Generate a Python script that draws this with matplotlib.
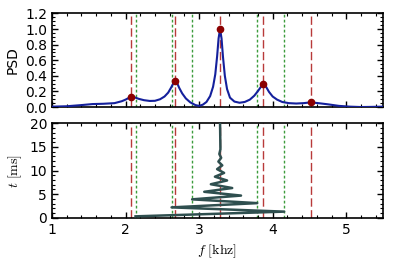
import matplotlib
matplotlib.use("Agg")
import matplotlib.pyplot as plt
from matplotlib.ticker import AutoMinorLocator, MultipleLocator

plt.rcParams['mathtext.fontset'] = 'cm'
plt.rcParams['font.family'] = ['DejaVu Sans']

# PSD curve
psd_f = [1.00, 1.20, 1.40, 1.55, 1.70, 1.85, 1.95, 2.00, 2.04, 2.08, 2.12, 2.18, 2.25, 2.33,
         2.40, 2.47, 2.53, 2.58, 2.62, 2.65, 2.675, 2.70, 2.73, 2.77, 2.82, 2.88, 2.95, 3.00,
         3.05, 3.10, 3.15, 3.19, 3.22, 3.245, 3.265, 3.285, 3.305, 3.325, 3.35, 3.38, 3.42,
         3.48, 3.55, 3.62, 3.69, 3.75, 3.80, 3.845, 3.875, 3.91, 3.95, 4.00, 4.06, 4.13, 4.22,
         4.32, 4.42, 4.52, 4.62, 4.75, 4.90, 5.05, 5.20, 5.35, 5.50]
psd_v = [0.005, 0.010, 0.025, 0.038, 0.042, 0.050, 0.075, 0.095, 0.115, 0.130, 0.125, 0.105,
         0.088, 0.078, 0.080, 0.100, 0.135, 0.185, 0.250, 0.305, 0.330, 0.310, 0.245, 0.175,
         0.110, 0.060, 0.025, 0.015, 0.030, 0.065, 0.140, 0.260, 0.420, 0.650, 0.880, 1.000,
         0.880, 0.640, 0.400, 0.230, 0.120, 0.070, 0.055, 0.065, 0.095, 0.145, 0.205, 0.265,
         0.290, 0.260, 0.195, 0.135, 0.095, 0.065, 0.050, 0.045, 0.050, 0.060, 0.050, 0.035,
         0.015, 0.005, 0.000, 0.002, 0.005]

# Peak markers
peak_f = [2.08, 2.675, 3.285, 3.875, 4.52]
peak_v = [0.130, 0.330, 1.000, 0.290, 0.060]

# Reference lines
red_lines = [2.08, 2.675, 3.285, 3.875, 4.52]
green_lines = [2.136, 2.626, 2.905, 3.79, 4.156]

# Frequency vs time (turning points)
zig_t = [0.3, 1.3, 2.2, 3.1, 3.9, 4.7, 5.5, 6.3, 7.1, 7.9, 8.7, 9.5, 10.3, 11.1, 11.9,
         12.7, 13.5, 14.5, 20.0]
zig_f = [2.136, 4.156, 2.626, 3.79, 2.905, 3.57, 3.07, 3.45, 3.16, 3.38, 3.215, 3.34,
         3.245, 3.315, 3.262, 3.30, 3.275, 3.29, 3.285]

fig = plt.figure(figsize=(3.95, 2.63), dpi=100)
ax1 = fig.add_axes([0.1316, 0.593, 0.838, 0.356])
ax2 = fig.add_axes([0.1316, 0.172, 0.838, 0.359])

red_c = '#b83a3a'
green_c = '#3c9c3c'

for ax in (ax1, ax2):
    for x in red_lines:
        ax.axvline(x, color=red_c, lw=1.0, dashes=(6, 2.5), zorder=1)
    for x in green_lines:
        ax.axvline(x, color=green_c, lw=1.0, dashes=(2, 1.6), zorder=1)

ax1.plot(psd_f, psd_v, color='#14209c', lw=1.5, zorder=3)
ax1.plot(peak_f, peak_v, 'o', color='#8b0000', ms=4.5, mec='#8b0000', zorder=4)
ax1.set_xlim(1, 5.5)
ax1.set_ylim(0, 1.2)
ax1.yaxis.set_major_locator(MultipleLocator(0.2))
ax1.set_ylabel('PSD', fontsize=10)
ax1.tick_params(labelbottom=False)

ax2.plot(zig_f, zig_t, color='#2f4f4f', lw=1.8, zorder=3)
ax2.set_xlim(1, 5.5)
ax2.set_ylim(0, 20)
ax2.yaxis.set_major_locator(MultipleLocator(5))
ax2.set_ylabel(r'$t\ [\mathrm{ms}]$', fontsize=10)
ax2.set_xlabel(r'$f\ [\mathrm{khz}]$', fontsize=10)

for ax in (ax1, ax2):
    ax.xaxis.set_major_locator(MultipleLocator(1))
    ax.xaxis.set_minor_locator(AutoMinorLocator())
    ax.yaxis.set_minor_locator(AutoMinorLocator())
    ax.tick_params(which='both', direction='in', top=True, right=True, labelsize=10)
    ax.tick_params(which='major', length=4, width=1)
    ax.tick_params(which='minor', length=2, width=0.8)
    for s in ax.spines.values():
        s.set_linewidth(1.2)

fig.savefig('out.png', dpi=100)
